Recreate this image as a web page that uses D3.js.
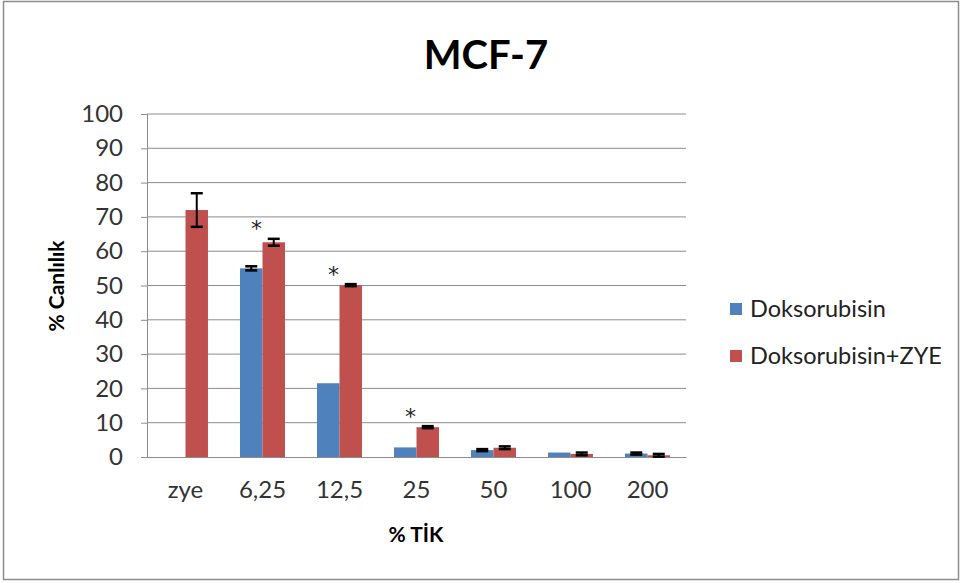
<!DOCTYPE html>
<html>
<head>
<meta charset="utf-8">
<script src="https://cdn.jsdelivr.net/npm/d3@7"></script>
<style>
  body { margin: 0; background: #fff; }
  svg text { font-family: Lato, "Open Sans", sans-serif; }
</style>
</head>
<body>
<div id="chart"></div>
<script>
// data
const categories = ['zye', '6,25', '12,5', '25', '50', '100', '200'];
const seriesNames = ['Doksorubisin', 'Doksorubisin+ZYE'];
const doksorubisin = [null, 55.0, 21.5, 2.8, 2.0, 1.3, 1.0];
const doksorubisinErr = [null, 0.6, 0, 0, 0.3, 0, 0.3];
const doksorubisinZye = [72.0, 62.6, 50.1, 8.7, 2.7, 0.9, 0.5];
const doksorubisinZyeErr = [4.9, 1.0, 0.3, 0.3, 0.4, 0.4, 0.4];
const significant = ['6,25', '12,5', '25'];
const yTicks = [0, 10, 20, 30, 40, 50, 60, 70, 80, 90, 100];

const colors = ['#4F81BD', '#C0504D'];

const W = 963, H = 583;
const margin = {top: 114, right: 277, bottom: 126, left: 147};
const width = W - margin.left - margin.right;
const height = H - margin.top - margin.bottom;

const svg = d3.select('#chart')
  .append('svg')
    .attr('width', W)
    .attr('height', H);

// outer frame
svg.append('rect')
  .attr('x', 3.5).attr('y', 1.5)
  .attr('width', 955).attr('height', 578)
  .attr('fill', 'none')
  .attr('stroke', '#8c8c8c')
  .attr('stroke-width', 1.5);

const g = svg.append('g')
  .attr('transform', `translate(${margin.left},${margin.top})`);

const x0 = d3.scaleBand()
  .domain(categories)
  .range([0, width])
  .padding(0);

const bw = x0.bandwidth();
const x1 = d3.scaleBand()
  .domain(seriesNames)
  .range([bw * 0.5 - bw * 0.292, bw * 0.5 + bw * 0.292])
  .padding(0);

const y = d3.scaleLinear()
  .domain([0, 100])
  .range([height, 0]);

// gridlines
g.append('g')
  .selectAll('line')
  .data(yTicks.filter(d => d > 0))
  .join('line')
    .attr('x1', 0).attr('x2', width)
    .attr('y1', d => y(d)).attr('y2', d => y(d))
    .attr('stroke', '#8c8c8c')
    .attr('stroke-width', 1);

// y axis
const yAxis = g.append('g')
  .call(d3.axisLeft(y).tickValues(yTicks).tickSize(6).tickPadding(18));
yAxis.select('.domain').attr('stroke', '#8c8c8c');
yAxis.selectAll('.tick line').attr('stroke', '#8c8c8c');
yAxis.selectAll('text')
  .style('font-size', '24px')
  .attr('fill', '#333');

// x axis
const xAxis = g.append('g')
  .attr('transform', `translate(0,${height})`)
  .call(d3.axisBottom(x0).tickSize(0).tickPadding(24));
xAxis.select('.domain').attr('stroke', '#8c8c8c');
xAxis.selectAll('text')
  .style('font-size', '24px')
  .attr('fill', '#333');

// bars
const seriesData = [
  {name: seriesNames[0], values: doksorubisin, errs: doksorubisinErr, color: colors[0]},
  {name: seriesNames[1], values: doksorubisinZye, errs: doksorubisinZyeErr, color: colors[1]}
];

seriesData.forEach(s => {
  const pts = categories.map((c, i) => ({cat: c, v: s.values[i], e: s.errs[i]}))
    .filter(d => d.v != null);

  g.append('g')
    .selectAll('rect')
    .data(pts)
    .join('rect')
      .attr('x', d => x0(d.cat) + x1(s.name))
      .attr('y', d => y(d.v))
      .attr('width', x1.bandwidth())
      .attr('height', d => y(0) - y(d.v))
      .attr('fill', s.color);

  // error bars
  const eb = g.append('g')
    .selectAll('g')
    .data(pts.filter(d => d.e > 0))
    .join('g')
      .attr('transform', d => `translate(${x0(d.cat) + x1(s.name) + x1.bandwidth() / 2},0)`);
  eb.append('line')
    .attr('y1', d => y(d.v + d.e)).attr('y2', d => y(d.v - d.e))
    .attr('stroke', '#000').attr('stroke-width', 2);
  eb.append('line')
    .attr('x1', -6).attr('x2', 6)
    .attr('y1', d => y(d.v + d.e)).attr('y2', d => y(d.v + d.e))
    .attr('stroke', '#000').attr('stroke-width', 2.5);
  eb.append('line')
    .attr('x1', -6).attr('x2', 6)
    .attr('y1', d => y(d.v - d.e)).attr('y2', d => y(d.v - d.e))
    .attr('stroke', '#000').attr('stroke-width', 2.5);
});

// significance stars
g.append('g')
  .selectAll('text')
  .data(significant)
  .join('text')
    .attr('x', d => x0(d) + bw / 2 - 6)
    .attr('y', d => y(doksorubisinZye[categories.indexOf(d)] + doksorubisinZyeErr[categories.indexOf(d)]) - 16)
    .attr('dy', '0.62em')
    .attr('text-anchor', 'middle')
    .style('font-family', '"DejaVu Sans", sans-serif')
    .style('font-size', '22px')
    .attr('fill', '#222')
    .text('*');

// title
svg.append('text')
  .attr('x', 486)
  .attr('y', 69)
  .attr('text-anchor', 'middle')
  .style('font-size', '40px')
  .style('font-weight', 'bold')
  .attr('fill', '#000')
  .text('MCF-7');

// y label
svg.append('text')
  .attr('transform', 'translate(64,286) rotate(-90)')
  .attr('text-anchor', 'middle')
  .style('font-size', '21px')
  .style('font-weight', 'bold')
  .attr('fill', '#000')
  .text('% Canlılık');

// x label
svg.append('text')
  .attr('x', 416)
  .attr('y', 542)
  .attr('text-anchor', 'middle')
  .style('font-size', '21px')
  .style('font-weight', 'bold')
  .attr('fill', '#000')
  .text('% TİK');

// legend
const legend = svg.append('g')
  .selectAll('g')
  .data(seriesData)
  .join('g')
    .attr('transform', (d, i) => `translate(730,${309 + i * 47})`);
legend.append('rect')
  .attr('x', 0).attr('y', -6)
  .attr('width', 12).attr('height', 12)
  .attr('fill', d => d.color);
legend.append('text')
  .attr('x', 20)
  .attr('y', 8)
  .style('font-size', '23.5px')
  .attr('fill', '#222')
  .text(d => d.name);
</script>
</body>
</html>
